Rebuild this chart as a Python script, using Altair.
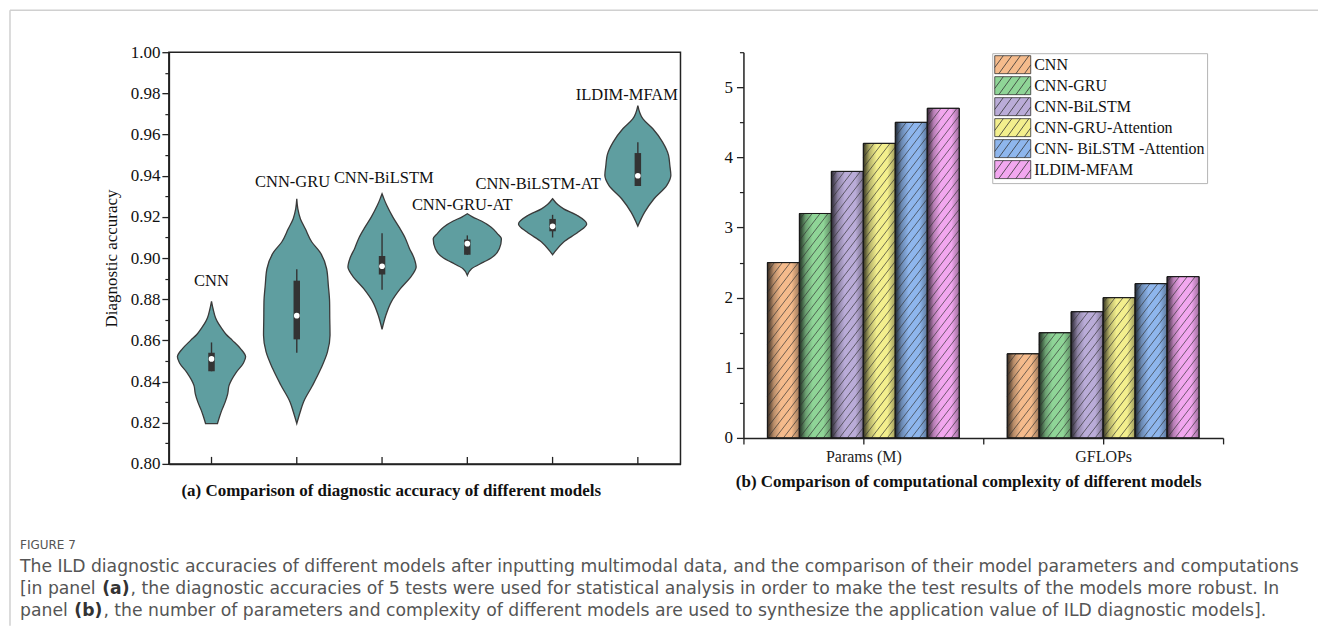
import altair as alt
import pandas as pd

# ---------------- panel (a): violins ----------------
models = ["CNN", "CNN-GRU", "CNN-BiLSTM", "CNN-GRU-AT", "CNN-BiLSTM-AT", "ILDIM-MFAM"]

cnn_acc = [0.8196, 0.823, 0.826, 0.830, 0.834, 0.838, 0.8445, 0.849, 0.852, 0.856, 0.860, 0.863, 0.866, 0.869, 0.871, 0.875, 0.879]
cnn_w = [0.07, 0.095, 0.12, 0.16, 0.19, 0.205, 0.29, 0.375, 0.40, 0.34, 0.245, 0.17, 0.117, 0.07, 0.047, 0.02, 0.0]

gru_acc = [0.8196, 0.8252, 0.830, 0.8382, 0.8463, 0.8544, 0.8625, 0.8705, 0.8786, 0.8867, 0.8948, 0.903, 0.9078, 0.9142, 0.919, 0.924, 0.9288]
gru_w = [0.0, 0.04, 0.078, 0.186, 0.283, 0.36, 0.39, 0.387, 0.385, 0.37, 0.35, 0.27, 0.176, 0.10, 0.043, 0.012, 0.0]

bilstm_acc = [0.8654, 0.8722, 0.8786, 0.8851, 0.8916, 0.8956, 0.900, 0.9048, 0.9099, 0.915, 0.9199, 0.9256, 0.9285, 0.9312]
bilstm_w = [0.0, 0.045, 0.107, 0.215, 0.35, 0.40, 0.375, 0.32, 0.27, 0.20, 0.127, 0.055, 0.025, 0.0]

gruat_acc = [0.8916, 0.8948, 0.898, 0.900, 0.9045, 0.9094, 0.912, 0.915, 0.918, 0.920, 0.9215]
gruat_w = [0.0, 0.05, 0.19, 0.28, 0.375, 0.40, 0.35, 0.28, 0.165, 0.06, 0.0]

bilstmat_acc = [0.9016, 0.903, 0.9078, 0.9126, 0.9166, 0.9207, 0.9239, 0.926, 0.9288]
bilstmat_w = [0.0, 0.025, 0.13, 0.30, 0.40, 0.29, 0.13, 0.06, 0.0]

ildim_acc = [0.9155, 0.9223, 0.9288, 0.9353, 0.9402, 0.945, 0.9499, 0.9563, 0.9628, 0.9676, 0.9741]
ildim_w = [0.0, 0.08, 0.19, 0.34, 0.387, 0.375, 0.36, 0.29, 0.176, 0.06, 0.0]

violin_acc = [cnn_acc, gru_acc, bilstm_acc, gruat_acc, bilstmat_acc, ildim_acc]
violin_w = [cnn_w, gru_w, bilstm_w, gruat_w, bilstmat_w, ildim_w]

whisker_lo = [0.845, 0.854, 0.8846, 0.9016, 0.910, 0.935]
box_q1 = [0.845, 0.8605, 0.892, 0.9016, 0.913, 0.935]
box_median = [0.851, 0.872, 0.896, 0.907, 0.9154, 0.940]
box_q3 = [0.854, 0.889, 0.901, 0.909, 0.919, 0.951]
whisker_hi = [0.859, 0.8945, 0.912, 0.911, 0.921, 0.9563]

label_y = [0.889, 0.937, 0.939, 0.926, 0.936, 0.979]
label_shift = [0.0, -0.05, 0.02, -0.06, -0.17, -0.13]

# ---------------- panel (b): grouped bars ----------------
groups = ["Params (M)", "GFLOPs"]
series = ["CNN", "CNN-GRU", "CNN-BiLSTM", "CNN-GRU-Attention", "CNN- BiLSTM -Attention", "ILDIM-MFAM"]
params_m = [2.5, 3.2, 3.8, 4.2, 4.5, 4.7]
gflops = [1.2, 1.5, 1.8, 2.0, 2.2, 2.3]
bar_colors = ["#F5BB8C", "#8FD597", "#BAACD8", "#F3EF8D", "#8EB6ED", "#F2A7EF"]

caption_head = "FIGURE 7"
caption_line1 = "The ILD diagnostic accuracies of different models after inputting multimodal data, and the comparison of their model parameters and computations"
caption_line2 = ["[in panel ", "(a)", ", the diagnostic accuracies of 5 tests were used for statistical analysis in order to make the test results of the models more robust. In"]
caption_line3 = ["panel ", "(b)", ", the number of parameters and complexity of different models are used to synthesize the application value of ILD diagnostic models]."]

# ---------------- build tables ----------------
vrows = []
for i, m in enumerate(models):
    for a, w in zip(violin_acc[i], violin_w[i]):
        vrows.append({"model": m, "idx": i, "acc": a, "w": w})
vdf = pd.DataFrame(vrows)

bdf = pd.DataFrame({
    "model": models, "idx": list(range(len(models))),
    "wlo": whisker_lo, "q1": box_q1, "med": box_median, "q3": box_q3, "whi": whisker_hi,
    "ly": label_y, "lshift": label_shift,
})

rows = []
for g, grp in enumerate(groups):
    vals = params_m if g == 0 else gflops
    for i, s in enumerate(series):
        rows.append({"group": grp, "g": g, "i": i, "series": s, "value": vals[i]})
bars = pd.DataFrame(rows)

SERIF = "Liberation Serif"
SANS = "DejaVu Sans"
W_A, H_A = 512, 412
W_B, H_B = 480, 386
PXX = W_B / 2.0
PXY = H_B / 5.5

xa = alt.Scale(domain=[0, 6], nice=False, zero=False)
ya = alt.Scale(domain=[0.8, 1.0], nice=False, zero=False)

base_v = alt.Chart(vdf).transform_calculate(
    xl="datum.idx + 0.5 - datum.w", xr="datum.idx + 0.5 + datum.w"
)
violins = base_v.mark_area(
    orient="horizontal", interpolate="monotone", fill="#5F9EA0", fillOpacity=1,
    stroke="#3a3a3a", strokeWidth=1.3
).encode(
    y=alt.Y("acc:Q", scale=ya, axis=alt.Axis(
        orient="left",
        values=[0.80, 0.82, 0.84, 0.86, 0.88, 0.90, 0.92, 0.94, 0.96, 0.98, 1.00], format=".2f",
        tickSize=7, tickColor="#222", tickWidth=1.3, domainColor="#222", domainWidth=1.5,
        labelFont=SERIF, labelFontSize=17, labelColor="#111", labelPadding=2, grid=False,
        title="Diagnostic accuracy", titleFont=SERIF, titleFontSize=17, titleFontWeight="normal",
        titleColor="#111", titlePadding=10)),
    x=alt.X("xl:Q", scale=xa, axis=alt.Axis(
        orient="bottom",
        ticks=False, labels=False, grid=False, domainColor="#222", domainWidth=1.5,
        title="(a) Comparison of diagnostic accuracy of different models", titleFont=SERIF,
        titleFontSize=17, titleFontWeight="bold", titleColor="#111", titlePadding=19, titleX=222)),
    x2="xr:Q",
    detail="model:N",
)

minor_a = alt.Chart(bdf).mark_point(opacity=0).encode(
    y=alt.Y("med:Q", scale=ya, axis=alt.Axis(
        orient="left",
        values=[round(0.81 + 0.02 * k, 2) for k in range(10)], labels=False, domain=False,
        tickSize=4, tickColor="#222", tickWidth=1.2, grid=False, title=None)),
    x=alt.X("idx:Q", scale=xa, axis=None),
)

bx = alt.Chart(bdf).transform_calculate(c="datum.idx + 0.5")
whisk = bx.mark_rule(color="#333", strokeWidth=1.4).encode(
    x=alt.X("c:Q", scale=xa, axis=None), y=alt.Y("wlo:Q", scale=ya, axis=None), y2="whi:Q")
iqr = bx.mark_rule(color="#333", strokeWidth=6.5).encode(
    x=alt.X("c:Q", scale=xa, axis=None), y=alt.Y("q1:Q", scale=ya, axis=None), y2="q3:Q")
med = bx.mark_circle(color="white", opacity=1, size=32).encode(
    x=alt.X("c:Q", scale=xa, axis=None), y=alt.Y("med:Q", scale=ya, axis=None))
xt = bx.mark_rule(color="#222", strokeWidth=1.3).encode(
    x=alt.X("c:Q", scale=xa, axis=None), y=alt.value(H_A), y2=alt.value(H_A - 7))
lab = alt.Chart(bdf).transform_calculate(lx="datum.idx + 0.5 + datum.lshift").mark_text(
    font=SERIF, fontSize=16.5, color="#111", baseline="middle", align="center"
).encode(
    x=alt.X("lx:Q", scale=xa, axis=None), y=alt.Y("ly:Q", scale=ya, axis=None), text="model:N")

one = pd.DataFrame({"k": [0]})
frame_top = alt.Chart(one).mark_rule(color="#d0d0d0", strokeWidth=1.5).encode(
    x=alt.value(-159), x2=alt.value(1150), y=alt.value(-42))
frame_left = alt.Chart(one).mark_rule(color="#d0d0d0", strokeWidth=1.5).encode(
    x=alt.value(-159), y=alt.value(-42), y2=alt.value(574))

CAP_FS = 17.25
CAP_X = -149
# approximate DejaVu Sans advance widths (em) of the pieces before/around the bold parts
W_PRE2 = 4.713 * CAP_FS + 1
W_PRE3 = 3.093 * CAP_FS + 1
W_BOLD_A = 1.589 * CAP_FS + 1
W_BOLD_B = 1.630 * CAP_FS + 1


def cap_text(txt, x, y, size=CAP_FS, weight="normal", color="#555"):
    return alt.Chart(one).mark_text(
        text=txt, font=SANS, fontSize=size, fontWeight=weight, color=color,
        align="left", baseline="middle").encode(x=alt.value(x), y=alt.value(y))


cap_layers = [
    cap_text(caption_head, CAP_X, 493, size=12),
    cap_text(caption_line1, CAP_X, 515),
    cap_text(caption_line2[0], CAP_X, 537),
    cap_text(caption_line2[1], CAP_X + W_PRE2, 537, weight="bold", color="#333"),
    cap_text(caption_line2[2], CAP_X + W_PRE2 + W_BOLD_A, 537),
    cap_text(caption_line3[0], CAP_X, 559),
    cap_text(caption_line3[1], CAP_X + W_PRE3, 559, weight="bold", color="#333"),
    cap_text(caption_line3[2], CAP_X + W_PRE3 + W_BOLD_B, 559),
]

left = alt.layer(
    violins, minor_a, whisk, iqr, med, xt, lab, frame_top, frame_left, *cap_layers
).resolve_axis(y="independent", x="independent").properties(
    width=W_A, height=H_A,
    view=alt.ViewBackground(stroke="#222", strokeWidth=1.5),
)

# ---------------- panel (b) ----------------
xb = alt.Scale(domain=[0, 2], nice=False, zero=False)
yb = alt.Scale(domain=[0, 5.5], nice=False, zero=True)
color_b = alt.Scale(domain=series, range=bar_colors)

# legend swatch: 36 x 18 px rectangle with diagonal hatch (symbol unit = 9 px)
SW, SH, RUN, GAP = 2.0, 1.0, 1.45, 0.95
sym = ["M-%.3f,-%.3fH%.3fV%.3fH-%.3fZ" % (SW, SH, SW, SH, SW)]
hx = -SW - RUN
while hx < SW:
    x1, y1 = hx, SH
    x2, y2 = hx + RUN, -SH
    if x1 < -SW:
        y1 = SH - 2 * SH * (-SW - x1) / RUN
        x1 = -SW
    if x2 > SW:
        y2 = -SH + 2 * SH * (x2 - SW) / RUN
        x2 = SW
    if x2 > x1:
        sym.append("M%.3f,%.3fL%.3f,%.3f" % (x1, y1, x2, y2))
    hx += GAP
sym_path = "".join(sym)

bb = alt.Chart(bars).transform_calculate(
    x0="datum.g + 0.1 + datum.i * 0.8 / 6", x1="datum.g + 0.1 + (datum.i + 1) * 0.8 / 6"
)
xaxis_b = alt.Axis(
    orient="bottom",
    values=[0, 0.5, 1, 1.5, 2], tickSize=6, tickColor="#222", tickWidth=1.3,
    domainColor="#222", domainWidth=1.5, grid=False,
    labelExpr="datum.value == 0.5 ? '%s' : (datum.value == 1.5 ? '%s' : '')" % (groups[0], groups[1]),
    labelFont=SERIF, labelFontSize=16, labelColor="#222", labelPadding=5,
    title="(b) Comparison of computational complexity of different models", titleFont=SERIF,
    titleFontSize=17, titleFontWeight="bold", titleColor="#111", titlePadding=9, titleX=225)
yaxis_b = alt.Axis(
    orient="left",
    values=[0, 1, 2, 3, 4, 5], tickSize=7, tickColor="#222", tickWidth=1.3,
    domainColor="#222", domainWidth=1.5, grid=False, labelFont=SERIF, labelFontSize=17,
    labelColor="#111", labelPadding=4, title=None)

bar_base = bb.mark_rect(stroke="#222", strokeWidth=1).encode(
    x=alt.X("x0:Q", scale=xb, axis=xaxis_b), x2="x1:Q",
    y=alt.Y("value:Q", scale=yb, axis=yaxis_b), y2=alt.datum(0),
    color=alt.Color("series:N", scale=color_b, sort=series, legend=alt.Legend(
        title=None, orient="none", legendX=824, legendY=1, direction="vertical",
        fillColor="white", strokeColor="#b5b5b5", padding=2, cornerRadius=0,
        symbolType=sym_path, symbolSize=324, symbolStrokeColor="#333", symbolStrokeWidth=0.8,
        symbolOffset=9, labelOffset=12, rowPadding=-2.5,
        labelFont=SERIF, labelFontSize=16, labelColor="#111", labelLimit=400)),
)

shade = alt.LinearGradient(
    gradient="linear", x1=0, x2=1, y1=0, y2=0,
    stops=[
        alt.GradientStop(color="rgba(0,0,0,0.78)", offset=0),
        alt.GradientStop(color="rgba(0,0,0,0.25)", offset=0.2),
        alt.GradientStop(color="rgba(0,0,0,0)", offset=0.42),
        alt.GradientStop(color="rgba(0,0,0,0)", offset=0.75),
        alt.GradientStop(color="rgba(0,0,0,0.35)", offset=1),
    ],
)
bar_shade = bb.mark_rect(fill=shade).encode(
    x=alt.X("x0:Q", scale=xb, axis=None), x2="x1:Q",
    y=alt.Y("value:Q", scale=yb, axis=None), y2=alt.datum(0))

SLOPE = 1.3
STEP = 8.0
BW = W_B / 2.0 * 0.8 / 6
hatch = bb.transform_calculate(
    k="sequence(0, 60)"
).transform_flatten(["k"]).transform_calculate(
    H="datum.value * %f" % PXY,
    b="-%f * %f + datum.k * %f" % (SLOPE, BW, STEP * SLOPE),
).transform_calculate(
    us="max(0, -datum.b / %f)" % SLOPE,
    ue="min(%f, (datum.H - datum.b) / %f)" % (BW, SLOPE),
).transform_filter("datum.us < datum.ue").transform_calculate(
    hx1="datum.x0 + datum.us / %f" % PXX,
    hx2="datum.x0 + datum.ue / %f" % PXX,
    hy1="(%f * datum.us + datum.b) / %f" % (SLOPE, PXY),
    hy2="(%f * datum.ue + datum.b) / %f" % (SLOPE, PXY),
).mark_rule(color="#333", strokeWidth=0.8, opacity=0.85).encode(
    x=alt.X("hx1:Q", scale=xb, axis=None), x2="hx2:Q",
    y=alt.Y("hy1:Q", scale=yb, axis=None), y2="hy2:Q")

bar_outline = bb.mark_rect(fillOpacity=0, stroke="#1a1a1a", strokeWidth=1).encode(
    x=alt.X("x0:Q", scale=xb, axis=None), x2="x1:Q",
    y=alt.Y("value:Q", scale=yb, axis=None), y2=alt.datum(0))

minor_b = alt.Chart(one).mark_point(opacity=0).encode(
    y=alt.Y("k:Q", scale=yb, axis=alt.Axis(
        orient="left",
        values=[0.5, 1.5, 2.5, 3.5, 4.5, 5.5], labels=False, domain=False, tickSize=4,
        tickColor="#222", tickWidth=1.2, grid=False, title=None)),
    x=alt.X("k:Q", scale=xb, axis=None),
)

right = alt.layer(bar_base, bar_shade, hatch, bar_outline, minor_b).resolve_axis(
    y="independent", x="independent"
).properties(
    width=W_B, height=H_B,
    view=alt.ViewBackground(stroke="transparent"),
)

chart = alt.hconcat(left, right, spacing=63, bounds="flush").properties(
    padding=0, background="white"
).configure_view(strokeWidth=0)

chart.save("out.html", embed_options={"renderer": "svg", "actions": False})
